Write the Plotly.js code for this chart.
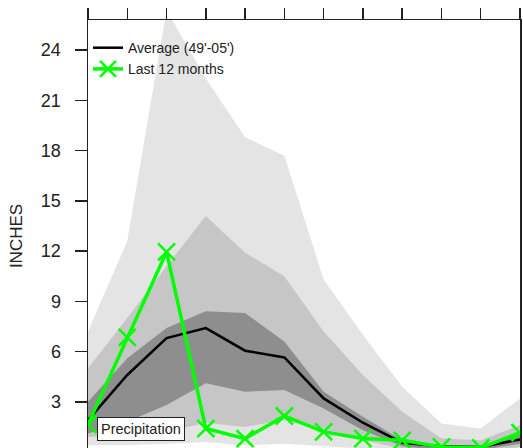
<!DOCTYPE html>
<html>
<head>
<meta charset="utf-8">
<script src="https://cdn.plot.ly/plotly-3.0.1.min.js"></script>
<style>
html, body { margin:0; padding:0; overflow:hidden; background:#fff; width:523px; height:448px; }
#chart { width:523px; height:480px; }
</style>
</head>
<body>
<div id="chart"></div>
<script>
// Months (12 points, one per tick)
const months = [1,2,3,4,5,6,7,8,9,10,11,12];
// Long-term average precipitation (49'-05'), inches
const average = [1.9, 4.6, 6.8, 7.4, 6.05, 5.65, 3.2, 1.75, 0.55, 0.35, 0.3, 0.75];
// Last 12 months precipitation, inches
const last12 = [1.65, 6.85, 11.95, 1.4, 0.8, 2.15, 1.2, 0.8, 0.7, 0.3, 0.25, 1.15];
// Shaded climatology ranges (outer / middle / inner)
const outerHi = [7.2, 12.6, 26.4, 22.3, 18.8, 17.7, 10.3, 7.0, 3.9, 1.7, 1.4, 3.2];
const outerLo = [0.4, 0.4, 0.5, 0.6, 0.4, 0.5, 0.35, 0.2, 0.05, 0.0, 0.0, 0.1];
const midHi   = [5.0, 8.0, 11.1, 14.1, 11.9, 10.5, 7.2, 4.6, 2.4, 0.8, 0.7, 1.6];
const midLo   = [0.9, 1.0, 1.2, 1.75, 1.5, 1.9, 1.3, 0.7, 0.2, 0.05, 0.05, 0.3];
const darkHi  = [3.0, 5.6, 7.4, 8.4, 8.3, 6.6, 3.6, 2.1, 0.7, 0.35, 0.3, 1.1];
const darkLo  = [1.1, 1.8, 2.8, 4.1, 3.6, 3.7, 2.6, 1.3, 0.35, 0.1, 0.1, 0.5];
const yTicks = [3, 6, 9, 12, 15, 18, 21, 24];

function band(hi, lo, color) {
  return {
    x: months.concat(months.slice().reverse()),
    y: hi.concat(lo.slice().reverse()),
    type: 'scatter', mode: 'lines', fill: 'toself',
    fillcolor: color, line: {width: 0, color: color},
    showlegend: false, hoverinfo: 'skip'
  };
}

const traces = [
  band(outerHi, outerLo, '#e4e4e4'),
  band(midHi, midLo, '#c6c6c6'),
  band(darkHi, darkLo, '#8e8e8e'),
  {
    x: months, y: average, type: 'scatter', mode: 'lines',
    name: "Average (49'-05')",
    line: {color: '#000000', width: 2.5}
  },
  {
    x: months, y: last12, type: 'scatter', mode: 'lines+markers',
    name: 'Last 12 months',
    line: {color: '#00ff00', width: 3.5},
    marker: {symbol: 'x-thin', size: 17, color: '#00ff00', line: {color: '#00ff00', width: 2.5}}
  }
];

const layout = {
  width: 523, height: 480,
  margin: {l: 88, r: 2.5, t: 20, b: 27.5},
  paper_bgcolor: '#ffffff', plot_bgcolor: '#ffffff',
  font: {family: 'Liberation Sans, Arial, sans-serif', color: '#222'},
  showlegend: true,
  legend: {
    x: 0.0, y: 0.972, xanchor: 'left', yanchor: 'top',
    bgcolor: 'rgba(0,0,0,0)', borderwidth: 0,
    font: {size: 14, color: '#222'},
    itemwidth: 30, tracegroupgap: 0
  },
  xaxis: {
    range: [1, 12], side: 'top',
    tickvals: months, showticklabels: false,
    ticks: 'outside', ticklen: 11, tickwidth: 1.5, tickcolor: '#222',
    showline: true, linecolor: '#222', linewidth: 1.5, mirror: true,
    showgrid: false, zeroline: false, fixedrange: true
  },
  yaxis: {
    range: [0, 25.8],
    tickvals: yTicks, ticktext: yTicks.map(String),
    ticks: 'outside', ticklen: 12, tickwidth: 1.5, tickcolor: '#222',
    ticklabelstandoff: 10,
    tickfont: {size: 18, color: '#222'},
    showline: true, linecolor: '#222', linewidth: 1.5, mirror: true,
    showgrid: false, zeroline: false, fixedrange: true,
    title: {text: 'INCHES', font: {size: 17, color: '#222'}, standoff: 14}
  },
  annotations: [{
    text: 'Precipitation', xref: 'paper', yref: 'paper',
    x: 0.02, y: 0.054, xanchor: 'left', yanchor: 'middle',
    showarrow: false, font: {size: 14.5, color: '#222'},
    bgcolor: '#ffffff', bordercolor: '#222', borderwidth: 1, borderpad: 3
  }]
};

Plotly.newPlot('chart', traces, layout, {displayModeBar: false, staticPlot: true});
</script>
</body>
</html>
